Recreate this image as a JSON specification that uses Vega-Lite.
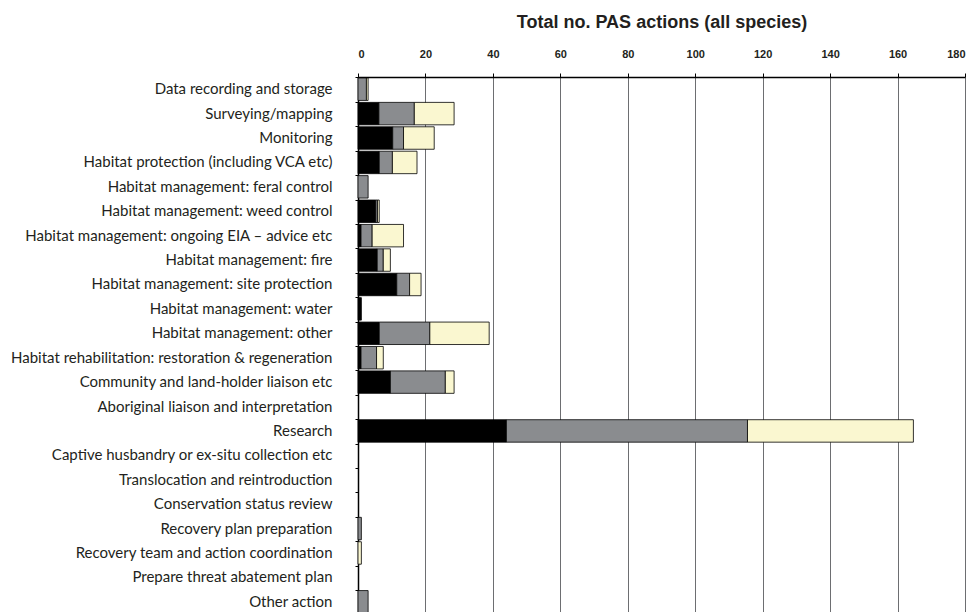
{
  "$schema": "https://vega.github.io/schema/vega-lite/v6.json",
  "width": 607,
  "height": 537,
  "autosize": "none",
  "padding": {"left": 358, "top": 77, "right": 15, "bottom": 0},
  "background": "white",
  "config": {"view": {"stroke": null}},
  "data": {
    "values": [
      {"action": "Data recording and storage", "series": "Series 2", "ord": 2, "n": 2.5},
      {"action": "Data recording and storage", "series": "Series 3", "ord": 3, "n": 0.5},
      {"action": "Surveying/mapping", "series": "Series 1", "ord": 1, "n": 6.2},
      {"action": "Surveying/mapping", "series": "Series 2", "ord": 2, "n": 10.5},
      {"action": "Surveying/mapping", "series": "Series 3", "ord": 3, "n": 11.8},
      {"action": "Monitoring", "series": "Series 1", "ord": 1, "n": 10.3},
      {"action": "Monitoring", "series": "Series 2", "ord": 2, "n": 3.2},
      {"action": "Monitoring", "series": "Series 3", "ord": 3, "n": 9.1},
      {"action": "Habitat protection (including VCA etc)", "series": "Series 1", "ord": 1, "n": 6.3},
      {"action": "Habitat protection (including VCA etc)", "series": "Series 2", "ord": 2, "n": 3.9},
      {"action": "Habitat protection (including VCA etc)", "series": "Series 3", "ord": 3, "n": 7.3},
      {"action": "Habitat management: feral control", "series": "Series 2", "ord": 2, "n": 3},
      {"action": "Habitat management: weed control", "series": "Series 1", "ord": 1, "n": 5.3},
      {"action": "Habitat management: weed control", "series": "Series 2", "ord": 2, "n": 0.5},
      {"action": "Habitat management: weed control", "series": "Series 3", "ord": 3, "n": 0.5},
      {"action": "Habitat management: ongoing EIA – advice etc", "series": "Series 1", "ord": 1, "n": 0.9},
      {"action": "Habitat management: ongoing EIA – advice etc", "series": "Series 2", "ord": 2, "n": 3.3},
      {"action": "Habitat management: ongoing EIA – advice etc", "series": "Series 3", "ord": 3, "n": 9.3},
      {"action": "Habitat management: fire", "series": "Series 1", "ord": 1, "n": 5.7},
      {"action": "Habitat management: fire", "series": "Series 2", "ord": 2, "n": 1.8},
      {"action": "Habitat management: fire", "series": "Series 3", "ord": 3, "n": 2.1},
      {"action": "Habitat management: site protection", "series": "Series 1", "ord": 1, "n": 11.5},
      {"action": "Habitat management: site protection", "series": "Series 2", "ord": 2, "n": 3.8},
      {"action": "Habitat management: site protection", "series": "Series 3", "ord": 3, "n": 3.4},
      {"action": "Habitat management: water", "series": "Series 1", "ord": 1, "n": 1},
      {"action": "Habitat management: other", "series": "Series 1", "ord": 1, "n": 6.3},
      {"action": "Habitat management: other", "series": "Series 2", "ord": 2, "n": 15},
      {"action": "Habitat management: other", "series": "Series 3", "ord": 3, "n": 17.6},
      {"action": "Habitat rehabilitation: restoration & regeneration", "series": "Series 1", "ord": 1, "n": 0.9},
      {"action": "Habitat rehabilitation: restoration & regeneration", "series": "Series 2", "ord": 2, "n": 4.6},
      {"action": "Habitat rehabilitation: restoration & regeneration", "series": "Series 3", "ord": 3, "n": 2},
      {"action": "Community and land-holder liaison etc", "series": "Series 1", "ord": 1, "n": 9.6},
      {"action": "Community and land-holder liaison etc", "series": "Series 2", "ord": 2, "n": 16.3},
      {"action": "Community and land-holder liaison etc", "series": "Series 3", "ord": 3, "n": 2.6},
      {"action": "Research", "series": "Series 1", "ord": 1, "n": 44},
      {"action": "Research", "series": "Series 2", "ord": 2, "n": 71.5},
      {"action": "Research", "series": "Series 3", "ord": 3, "n": 49.2},
      {"action": "Recovery plan preparation", "series": "Series 2", "ord": 2, "n": 1},
      {"action": "Recovery team and action coordination", "series": "Series 3", "ord": 3, "n": 1},
      {"action": "Other action", "series": "Series 2", "ord": 2, "n": 3}
    ]
  },
  "mark": {"type": "bar", "stroke": "#000000", "strokeWidth": 1, "strokeOpacity": 0.8},
  "encoding": {
    "y": {
      "field": "action",
      "type": "nominal",
      "scale": {
        "domain": [
          "Data recording and storage",
          "Surveying/mapping",
          "Monitoring",
          "Habitat protection (including VCA etc)",
          "Habitat management: feral control",
          "Habitat management: weed control",
          "Habitat management: ongoing EIA – advice etc",
          "Habitat management: fire",
          "Habitat management: site protection",
          "Habitat management: water",
          "Habitat management: other",
          "Habitat rehabilitation: restoration & regeneration",
          "Community and land-holder liaison etc",
          "Aboriginal liaison and interpretation",
          "Research",
          "Captive husbandry or ex-situ collection etc",
          "Translocation and reintroduction",
          "Conservation status review",
          "Recovery plan preparation",
          "Recovery team and action coordination",
          "Prepare threat abatement plan",
          "Other action"
        ],
        "paddingInner": 0.08,
        "paddingOuter": 0.04
      },
      "axis": {
        "title": null,
        "bandPosition": 0,
        "labelFont": "Lato",
        "labelFontSize": 15,
        "labelColor": "#231f20",
        "labelPadding": 23,
        "labelLimit": 400,
        "tickSize": 3,
        "tickColor": "#000000",
        "domainColor": "#000000",
        "domainWidth": 1.5,
        "grid": false
      }
    },
    "x": {
      "field": "n",
      "type": "quantitative",
      "stack": "zero",
      "scale": {"domain": [0, 180], "nice": false},
      "axis": {
        "orient": "top",
        "title": "Total no. PAS actions (all species)",
        "titleFont": "Liberation Sans",
        "titleFontSize": 18,
        "titleFontWeight": "bold",
        "titleColor": "#231f20",
        "titlePadding": 17,
        "values": [0, 20, 40, 60, 80, 100, 120, 140, 160, 180],
        "labelFont": "Liberation Sans",
        "labelFontSize": 11,
        "labelFontWeight": "bold",
        "labelColor": "#231f20",
        "labelPadding": 14,
        "tickSize": 4,
        "tickColor": "#000000",
        "domainColor": "#000000",
        "domainWidth": 1.5,
        "grid": true,
        "gridColor": "#6d6e71",
        "gridWidth": 1
      }
    },
    "color": {
      "field": "series",
      "type": "nominal",
      "scale": {"domain": ["Series 1", "Series 2", "Series 3"], "range": ["#000000", "#8a8c8f", "#faf7d0"]},
      "legend": null
    },
    "order": {"field": "ord", "type": "quantitative"}
  }
}
